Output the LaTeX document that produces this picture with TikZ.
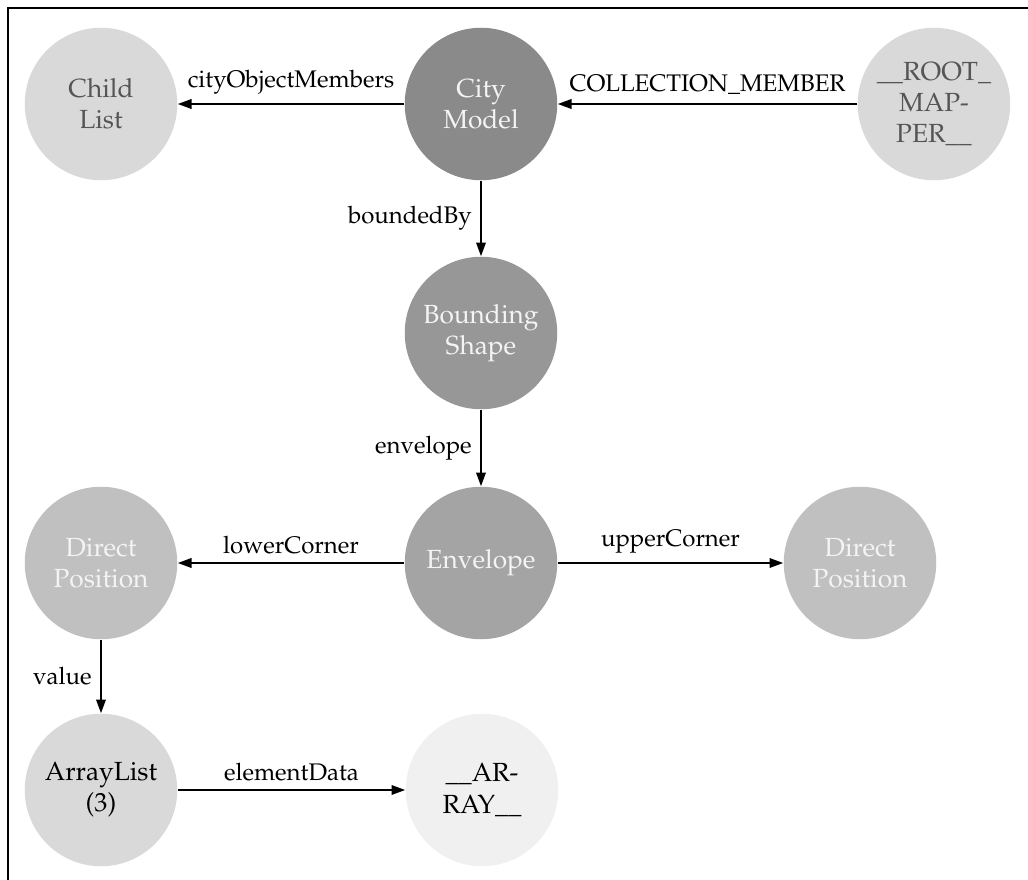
\documentclass[tikz,border=0pt]{standalone}
\usepackage[T1]{fontenc}
\usepackage{mathpazo}
\usetikzlibrary{arrows.meta}
\definecolor{fillA}{HTML}{8A8A8A}
\definecolor{fillB}{HTML}{979797}
\definecolor{fillC}{HTML}{A4A4A4}
\definecolor{fillD}{HTML}{C0C0C0}
\definecolor{fillE}{HTML}{D9D9D9}
\definecolor{fillF}{HTML}{F0F0F0}
\definecolor{dimtext}{HTML}{555555}
\definecolor{lighttext}{HTML}{F4F4F4}
\begin{document}
\begin{tikzpicture}[x=0.4pt,y=-0.4pt,
  obj/.style={circle, minimum size=61pt, inner sep=0pt, align=center,
              font=\fontsize{10.5}{12.5}\selectfont},
  ref/.style={draw=black, line width=0.8pt, -{Triangle[length=5.5pt,width=3.8pt]}},
  lbl/.style={font=\fontsize{9.6}{11}\selectfont, text=black}]
\useasboundingbox (0,0) rectangle (1028,880);
% open frame: top and left rules
\coordinate (frameR) at (1028,8);
\coordinate (frameC) at (8,8);
\coordinate (frameB) at (8,880);
\draw[line width=0.8pt] (frameR) -- (frameC) -- (frameB);

% objects
\node[obj, fill=fillE, text=dimtext]   (child) at (101,104) {Child\\List};
\node[obj, fill=fillA, text=lighttext] (city)  at (481,104) {City\\Model};
\node[obj, fill=fillE, text=dimtext]   (root)  at (934,104) {\_\_ROOT\_\\MAP-\\PER\_\_};
\node[obj, fill=fillB, text=lighttext] (bound) at (481,333) {Bounding\\Shape};
\node[obj, fill=fillC, text=lighttext] (env)   at (481,563) {Envelope};
\node[obj, fill=fillD, text=lighttext] (lower) at (101,563) {Direct\\Position};
\node[obj, fill=fillD, text=lighttext] (upper) at (860,563) {Direct\\Position};
\node[obj, fill=fillE, text=black]     (alist) at (101,790) {ArrayList\\(3)};
\node[obj, fill=fillF, text=black]     (arr)   at (482,790) {\_\_AR-\\RAY\_\_};

% references
\draw[ref] (city)  -- node[lbl, above] {cityObjectMembers} (child);
\draw[ref] (root)  -- node[lbl, above] {COLLECTION\_MEMBER} (city);
\draw[ref] (city)  -- node[lbl, left]  {boundedBy} (bound);
\draw[ref] (bound) -- node[lbl, left]  {envelope} (env);
\draw[ref] (env)   -- node[lbl, above] {lowerCorner} (lower);
\draw[ref] (env)   -- node[lbl, above] {upperCorner} (upper);
\draw[ref] (lower) -- node[lbl, left]  {value} (alist);
\draw[ref] (alist) -- node[lbl, above] {elementData} (arr);
\end{tikzpicture}
\end{document}
